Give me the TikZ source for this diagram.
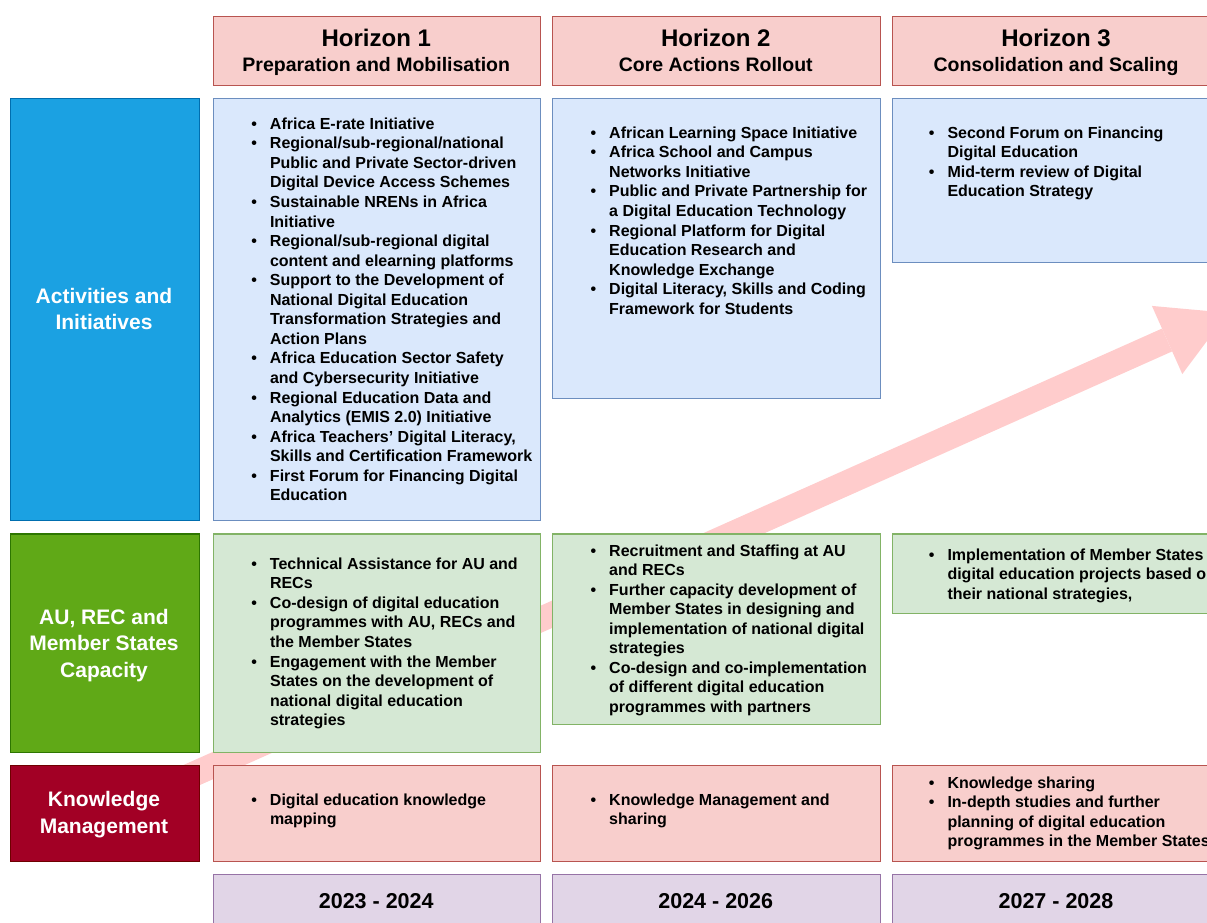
\documentclass[tikz,border=0pt]{standalone}
\usepackage{fontspec}
\setmainfont{Liberation Sans}
\usetikzlibrary{arrows.meta}
\definecolor{horizonfill}{HTML}{F8CECC}
\definecolor{horizonline}{HTML}{B85450}
\definecolor{actfill}{HTML}{DAE8FC}
\definecolor{actline}{HTML}{6C8EBF}
\definecolor{capfill}{HTML}{D5E8D4}
\definecolor{capline}{HTML}{82B366}
\definecolor{yearfill}{HTML}{E1D5E7}
\definecolor{yearline}{HTML}{9673A6}
\definecolor{actlabel}{HTML}{1BA1E2}
\definecolor{actlabelline}{HTML}{006EAF}
\definecolor{caplabel}{HTML}{60A917}
\definecolor{caplabelline}{HTML}{2D7600}
\definecolor{kmlabel}{HTML}{A20025}
\definecolor{kmlabelline}{HTML}{6F0000}
\definecolor{arrowpink}{HTML}{FFCCCC}
\newcommand{\bulletlist}[1]{\begin{tabular}[t]{@{}c@{\hspace{13pt}}l@{}}#1\end{tabular}}
\newcommand{\centerlines}[1]{\begin{tabular}[t]{@{}c@{}}#1\end{tabular}}
\newcommand{\bul}{\textbullet}

\begin{document}
\begin{tikzpicture}[x=1pt,y=-1pt,
		cell/.style={draw, line width=1.3pt, anchor=north west, inner sep=0pt},
		horizoncell/.style={cell, fill=horizonfill, draw=horizonline},
		actcell/.style={cell, fill=actfill, draw=actline},
		capcell/.style={cell, fill=capfill, draw=capline},
		yearcell/.style={cell, fill=yearfill, draw=yearline},
		rowlabel/.style={cell, minimum width=189pt},
		bodytext/.style={anchor=base west, inner sep=0pt, font=\fontsize{16}{19.55}\selectfont\bfseries},
		titletext/.style={anchor=base, inner sep=0pt, font=\fontsize{24}{29}\selectfont\bfseries},
		subtext/.style={anchor=base, inner sep=0pt, font=\fontsize{19.5}{23}\selectfont\bfseries},
		labeltext/.style={anchor=base, inner sep=0pt, text=white, font=\fontsize{21}{26.5}\selectfont\bfseries},
		yeartext/.style={anchor=base, inner sep=0pt, font=\fontsize{21.5}{26}\selectfont\bfseries},
		progress/.style={line width=25pt, draw=arrowpink, -{Triangle[length=66.7pt, width=74.6pt, line width=0pt]}}]
	\useasboundingbox (0,0) rectangle (1207,922);
	\clip (0,0) rectangle (1207,922);

	\coordinate (tail) at (150,793.6);
	\coordinate (tip) at (1228,312.8);
	\draw[progress] (tail) -- (tip);

	\node[horizoncell, minimum width=326.5pt, minimum height=69pt] (h1) at (213,16) {};
	\node[horizoncell, minimum width=327.5pt, minimum height=69pt] (h2) at (552,16) {};
	\node[horizoncell, minimum width=328pt, minimum height=69pt] (h3) at (892,16) {};
	\node[titletext] (h1title) at (376.25,46.7) {Horizon 1};
	\node[subtext] (h1sub) at (376.25,71.7) {Preparation and Mobilisation};
	\node[titletext] (h2title) at (715.75,46.7) {Horizon 2};
	\node[subtext] (h2sub) at (715.75,71.7) {Core Actions Rollout};
	\node[titletext] (h3title) at (1056,46.7) {Horizon 3};
	\node[subtext] (h3sub) at (1056,71.7) {Consolidation and Scaling};

	\node[rowlabel, fill=actlabel, draw=actlabelline, minimum height=422.5pt] (act0) at (9.5,97.5) {};
	\node[actcell, minimum width=326.5pt, minimum height=422.5pt] (act1) at (213,97.5) {};
	\node[actcell, minimum width=327.5pt, minimum height=300pt] (act2) at (552,97.5) {};
	\node[actcell, minimum width=328pt, minimum height=164pt] (act3) at (892,97.5) {};
	\node[labeltext] (act0t) at (104,303.3) {\centerlines{Activities and\\Initiatives}};
	\node[bodytext] (act1t) at (251.2,129.3) {\bulletlist{
		\bul & Africa E-rate Initiative\\
		\bul & Regional/sub-regional/national\\
		& Public and Private Sector-driven\\
		& Digital Device Access Schemes\\
		\bul & Sustainable NRENs in Africa\\
		& Initiative\\
		\bul & Regional/sub-regional digital\\
		& content and elearning platforms\\
		\bul & Support to the Development of\\
		& National Digital Education\\
		& Transformation Strategies and\\
		& Action Plans\\
		\bul & Africa Education Sector Safety\\
		& and Cybersecurity Initiative\\
		\bul & Regional Education Data and\\
		& Analytics (EMIS 2.0) Initiative\\
		\bul & Africa Teachers’ Digital Literacy,\\
		& Skills and Certification Framework\\
		\bul & First Forum for Financing Digital\\
		& Education}};
	\node[bodytext] (act2t) at (590.4,138.3) {\bulletlist{
		\bul & African Learning Space Initiative\\
		\bul & Africa School and Campus\\
		& Networks Initiative\\
		\bul & Public and Private Partnership for\\
		& a Digital Education Technology\\
		\bul & Regional Platform for Digital\\
		& Education Research and\\
		& Knowledge Exchange\\
		\bul & Digital Literacy, Skills and Coding\\
		& Framework for Students}};
	\node[bodytext] (act3t) at (928.7,138.3) {\bulletlist{
		\bul & Second Forum on Financing\\
		& Digital Education\\
		\bul & Mid-term review of Digital\\
		& Education Strategy}};

	\node[rowlabel, fill=caplabel, draw=caplabelline, minimum height=218.4pt] (cap0) at (9.5,533.3) {};
	\node[capcell, minimum width=326.5pt, minimum height=218.4pt] (cap1) at (213,533.3) {};
	\node[capcell, minimum width=327.5pt, minimum height=190.7pt] (cap2) at (552,533.3) {};
	\node[capcell, minimum width=328pt, minimum height=79.7pt] (cap3) at (892,533.3) {};
	\node[labeltext] (cap0t) at (104,624) {\centerlines{AU, REC and\\Member States\\Capacity}};
	\node[bodytext] (cap1t) at (251.2,569.3) {\bulletlist{
		\bul & Technical Assistance for AU and\\
		& RECs\\
		\bul & Co-design of digital education\\
		& programmes with AU, RECs and\\
		& the Member States\\
		\bul & Engagement with the Member\\
		& States on the development of\\
		& national digital education\\
		& strategies}};
	\node[bodytext] (cap2t) at (590.4,556) {\bulletlist{
		\bul & Recruitment and Staffing at AU\\
		& and RECs\\
		\bul & Further capacity development of\\
		& Member States in designing and\\
		& implementation of national digital\\
		& strategies\\
		\bul & Co-design and co-implementation\\
		& of different digital education\\
		& programmes with partners}};
	\node[bodytext] (cap3t) at (928.7,560) {\bulletlist{
		\bul & Implementation of Member States\\
		& digital education projects based on\\
		& their national strategies,}};

	\node[rowlabel, fill=kmlabel, draw=kmlabelline, minimum height=96pt] (km0) at (9.5,764.5) {};
	\node[horizoncell, minimum width=326.5pt, minimum height=96pt] (km1) at (213,764.5) {};
	\node[horizoncell, minimum width=327.5pt, minimum height=96pt] (km2) at (552,764.5) {};
	\node[horizoncell, minimum width=328pt, minimum height=96pt] (km3) at (892,764.5) {};
	\node[labeltext] (km0t) at (104,806.7) {\centerlines{Knowledge\\Management}};
	\node[bodytext] (km1t) at (251.2,805) {\bulletlist{
		\bul & Digital education knowledge\\
		& mapping}};
	\node[bodytext] (km2t) at (590.4,805) {\bulletlist{
		\bul & Knowledge Management and\\
		& sharing}};
	\node[bodytext] (km3t) at (928.7,788) {\bulletlist{
		\bul & Knowledge sharing\\
		\bul & In-depth studies and further\\
		& planning of digital education\\
		& programmes in the Member States}};

	\node[yearcell, minimum width=326.5pt, minimum height=53pt] (y1) at (213,873.5) {};
	\node[yearcell, minimum width=327.5pt, minimum height=53pt] (y2) at (552,873.5) {};
	\node[yearcell, minimum width=328pt, minimum height=53pt] (y3) at (892,873.5) {};
	\node[yeartext] (y1t) at (376.25,908.3) {2023 - 2024};
	\node[yeartext] (y2t) at (715.75,908.3) {2024 - 2026};
	\node[yeartext] (y3t) at (1056,908.3) {2027 - 2028};
\end{tikzpicture}
\end{document}
